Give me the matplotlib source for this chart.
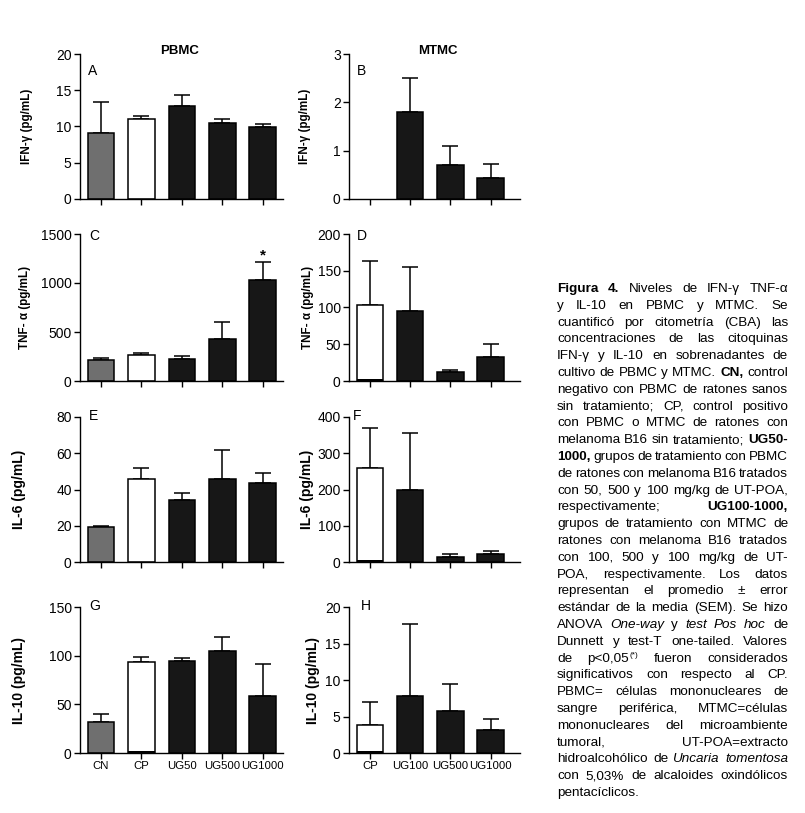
#
# Figura 4: citoquinas en PBMC y MTMC
#
import matplotlib
matplotlib.use("Agg")
import matplotlib.pyplot as plt

plt.rcParams['font.family'] = ['Liberation Sans', 'DejaVu Sans']

W, H = 805, 813

# grupos y colores
pbmc_groups = ["CN", "CP", "UG50", "UG500", "UG1000"]
mtmc_groups = ["CP", "UG100", "UG500", "UG1000"]
pbmc_colors = ["#6f6f6f", "white", "#171717", "#171717", "#171717"]
mtmc_colors = ["white", "#171717", "#171717", "#171717"]

# valores (media y SEM)
ifn_pbmc = [9.05, 11.05, 12.8, 10.55, 9.9]
ifn_pbmc_err = [4.3, 0.35, 1.6, 0.5, 0.5]
ifn_mtmc = [0.0, 1.79, 0.70, 0.43]
ifn_mtmc_err = [0.0, 0.71, 0.40, 0.30]
tnf_pbmc = [211, 262, 224, 429, 1035]
tnf_pbmc_err = [20, 24, 28, 170, 175]
tnf_mtmc = [103, 95, 12, 33]
tnf_mtmc_err = [60, 60, 3, 18]
il6_pbmc = [19.3, 45.8, 34.2, 45.8, 43.4]
il6_pbmc_err = [0.5, 6.2, 4.0, 16.2, 5.6]
il6_mtmc = [260, 200, 14, 22]
il6_mtmc_err = [109, 157, 8, 8]
il10_pbmc = [31.6, 94, 95, 105, 59]
il10_pbmc_err = [8.4, 5, 2.5, 14, 32]
il10_mtmc = [3.9, 7.8, 5.8, 3.1]
il10_mtmc_err = [3.1, 9.9, 3.6, 1.6]

# texto de la leyenda, una linea por renglon (*negrita*, _cursiva_, ^superindice)
caption = [
    "*Figura* *4.* Niveles de IFN-γ TNF-α",
    "y IL-10 en PBMC y MTMC. Se",
    "cuantificó por citometría (CBA) las",
    "concentraciones de las citoquinas",
    "IFN-γ y IL-10 en sobrenadantes de",
    "cultivo de PBMC y MTMC. *CN,* control",
    "negativo con PBMC de ratones sanos",
    "sin tratamiento; CP, control positivo",
    "con PBMC o MTMC de ratones con",
    "melanoma B16 sin tratamiento; *UG50-*",
    "*1000,* grupos de tratamiento con PBMC",
    "de ratones con melanoma B16 tratados",
    "con 50, 500 y 100 mg/kg de UT-POA,",
    "respectivamente; *UG100-1000,*",
    "grupos de tratamiento con MTMC de",
    "ratones con melanoma B16 tratados",
    "con 100, 500 y 100 mg/kg de UT-",
    "POA, respectivamente. Los datos",
    "representan el promedio ± error",
    "estándar de la media (SEM). Se hizo",
    "ANOVA _One-way_ y _test_ _Pos_ _hoc_ de",
    "Dunnett y test-T one-tailed. Valores",
    "de p<0,05^(*) fueron considerados",
    "significativos con respecto al CP.",
    "PBMC= células mononucleares de",
    "sangre periférica, MTMC=células",
    "mononucleares del microambiente",
    "tumoral, UT-POA=extracto",
    "hidroalcohólico de _Uncaria_ _tomentosa_",
    "con 5,03% de alcaloides oxindólicos",
    "pentacíclicos.",
]

fig = plt.figure(figsize=(W / 100, H / 100), dpi=100)


def px_rect(x0, x1, ytop, ybot):
    return [x0 / W, 1 - ybot / H, (x1 - x0) / W, (ybot - ytop) / H]


def panel(rect, groups, vals, errs, colors, ymax, ystep, letter, letter_pos,
          ylabel, ylab_x, ylab_fs, xright, show_labels, base_line=False):
    ax = fig.add_axes(rect)
    n = len(groups)
    xs = list(range(n))
    bx = [x for x, v in zip(xs, vals) if v > 0]
    bv = [v for v in vals if v > 0]
    bc = [c for c, v in zip(colors, vals) if v > 0]
    ax.bar(bx, bv, width=0.66, color=bc, edgecolor="black",
           linewidth=1.1, zorder=2)
    if base_line:
        # raya negra en la base de las barras blancas (como en el original)
        wx = [x for x, c in zip(xs, colors) if c == "white"]
        ax.bar(wx, [ymax * 0.012] * len(wx), width=0.66, color="black",
               linewidth=0, zorder=3)
    ex = [x for x, e in zip(xs, errs) if e > 0]
    ev = [v for v, e in zip(vals, errs) if e > 0]
    ee = [e for e in errs if e > 0]
    ax.errorbar(ex, ev, yerr=[[0] * len(ee), ee], fmt="none", ecolor="black",
                elinewidth=1.1, capsize=5.5, capthick=1.1, zorder=1)
    ax.set_xlim(-0.52, xright)
    ax.set_ylim(0, ymax)
    ax.set_yticks([ystep * i for i in range(int(round(ymax / ystep)) + 1)])
    ax.set_xticks(xs)
    if show_labels:
        ax.set_xticklabels(groups)
    else:
        ax.set_xticklabels([])
    for s in ["top", "right"]:
        ax.spines[s].set_visible(False)
    for s in ["left", "bottom"]:
        ax.spines[s].set_linewidth(1.0)
    ax.tick_params(axis="both", direction="out", length=4, width=1.0, pad=2)
    ax.tick_params(axis="y", labelsize=10)
    ax.tick_params(axis="x", labelsize=8.2)
    fig.text(letter_pos[0] / W, 1 - letter_pos[1] / H, letter, fontsize=10,
             va="center", ha="left")
    fig.text(ylab_x / W, rect[1] + rect[3] / 2, ylabel, rotation=90,
             fontsize=ylab_fs, weight="bold", ha="center", va="center")
    return ax


lx0, lx1 = 80, 283
rx0, rx1 = 349, 520
rows = [(54, 199), (234, 381), (417, 562), (607, 753)]

axA = panel(px_rect(lx0, lx1, *rows[0]), pbmc_groups, ifn_pbmc, ifn_pbmc_err,
            pbmc_colors, 20, 5, "A", (88, 71), "IFN-γ (pg/mL)", 27, 8.4, 4.5, False)
axB = panel(px_rect(rx0, rx1, *rows[0]), mtmc_groups, ifn_mtmc, ifn_mtmc_err,
            mtmc_colors, 3, 1, "B", (357, 71), "IFN-γ (pg/mL)", 305, 8.4, 3.73, False)
axC = panel(px_rect(lx0, lx1, *rows[1]), pbmc_groups, tnf_pbmc, tnf_pbmc_err,
            pbmc_colors, 1500, 500, "C", (89, 236), "TNF- α (pg/mL)", 25, 8.4, 4.5, False)
axD = panel(px_rect(rx0, rx1, *rows[1]), mtmc_groups, tnf_mtmc, tnf_mtmc_err,
            mtmc_colors, 200, 50, "D", (357, 236), "TNF- α (pg/mL)", 308, 8.4, 3.73, False,
            base_line=True)
axE = panel(px_rect(lx0, lx1, *rows[2]), pbmc_groups, il6_pbmc, il6_pbmc_err,
            pbmc_colors, 80, 20, "E", (89, 416), "IL-6 (pg/mL)", 19, 10, 4.5, False)
axF = panel(px_rect(rx0, rx1, *rows[2]), mtmc_groups, il6_mtmc, il6_mtmc_err,
            mtmc_colors, 400, 100, "F", (353, 416), "IL-6 (pg/mL)", 307, 10, 3.73, False,
            base_line=True)
axG = panel(px_rect(lx0, lx1, *rows[3]), pbmc_groups, il10_pbmc, il10_pbmc_err,
            pbmc_colors, 150, 50, "G", (89, 606), "IL-10 (pg/mL)", 19, 10, 4.5, True,
            base_line=True)
axH = panel(px_rect(rx0, rx1, *rows[3]), mtmc_groups, il10_mtmc, il10_mtmc_err,
            mtmc_colors, 20, 5, "H", (361, 606), "IL-10 (pg/mL)", 313, 10, 3.73, True,
            base_line=True)

# asterisco de significancia sobre UG1000
axC.text(4, tnf_pbmc[4] + tnf_pbmc_err[4], "*", ha="center", va="bottom",
         fontsize=11, weight="bold")

fig.text(180 / W, 1 - 51 / H, "PBMC", fontsize=9.5, weight="bold", ha="center", va="center")
fig.text(438 / W, 1 - 51 / H, "MTMC", fontsize=9.5, weight="bold", ha="center", va="center")

# ---- leyenda justificada ----
TX0, TX1 = 557, 788
BASE0, STEP = 292, 16.8
r = fig.canvas.get_renderer()


def seg_kw(kind, fs):
    kw = dict(fontsize=fs)
    if kind == "bold":
        kw["weight"] = "bold"
    elif kind == "italic":
        kw["style"] = "italic"
    elif kind == "sup":
        kw["fontsize"] = fs * 0.6
    return kw


def parse(word):
    if len(word) > 2 and word.startswith("*") and word.endswith("*"):
        return [(word[1:-1], "bold")]
    if len(word) > 2 and word.startswith("_") and word.endswith("_"):
        return [(word[1:-1], "italic")]
    if "^" in word:
        a, b = word.split("^")
        return [(a, "normal"), (b, "sup")]
    return [(word, "normal")]


def width_of(s, kind, fs):
    t = fig.text(0, 0, s, **seg_kw(kind, fs))
    w = t.get_window_extent(renderer=r).width
    t.remove()
    return w


words_all = [[parse(w) for w in line.split(" ")] for line in caption]


def measure(fs):
    ws = [[[width_of(s, k, fs) for s, k in segs] for segs in words] for words in words_all]
    sp = width_of("a a", "normal", fs) - width_of("aa", "normal", fs)
    return ws, sp


# tamaño de letra: el mayor que deja un espacio razonable en cada renglon
FS = 10.6
while True:
    widths_all, space_w = measure(FS)
    ok = True
    for words, widths in zip(words_all[:-1], widths_all[:-1]):
        total = sum(sum(ws) for ws in widths)
        gap = (TX1 - TX0 - total) / max(len(words) - 1, 1)
        if gap < space_w * 0.6:
            ok = False
            break
    if ok or FS < 8:
        break
    FS -= 0.1

for i, (words, widths) in enumerate(zip(words_all, widths_all)):
    total = sum(sum(ws) for ws in widths)
    last = i == len(caption) - 1
    if len(words) > 1 and not last:
        gap = (TX1 - TX0 - total) / (len(words) - 1)
    else:
        gap = space_w
    x = TX0
    yb = BASE0 + i * STEP
    for segs, ws in zip(words, widths):
        for (s, k), w in zip(segs, ws):
            dy = -4.5 if k == "sup" else 0
            fig.text(x / W, 1 - (yb + dy) / H, s, va="baseline", ha="left", **seg_kw(k, FS))
            x += w
        x += gap

fig.savefig("out.png", dpi=100)
